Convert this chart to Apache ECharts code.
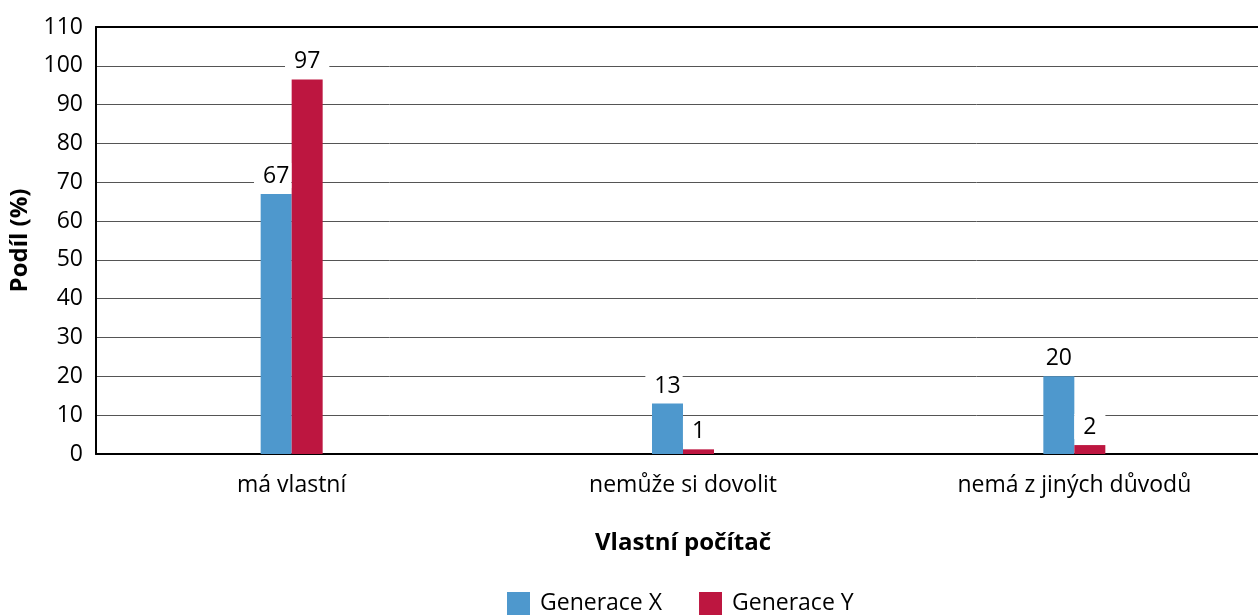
<!DOCTYPE html>
<html>
<head>
<meta charset="utf-8">
<script src="https://cdn.jsdelivr.net/npm/echarts@6/dist/echarts.min.js"></script>
<style>html,body{margin:0;padding:0;background:#fff;overflow:hidden}#c{width:1270px;height:615px}</style>
</head>
<body>
<div id="c"></div>
<script>
const categories = ['má vlastní', 'nemůže si dovolit', 'nemá z jiných důvodů'];
const seriesNames = ['Generace X', 'Generace Y'];
const genX = [67, 13, 20];
const genY = [96.5, 1.2, 2.3];
const yTicks = { min: 0, max: 110, interval: 10 };
const yTitle = 'Podíl (%)';
const xTitle = 'Vlastní počítač';

const FONT = '"Open Sans", sans-serif';
const colors = ['#4E98CD', '#BD1640'];
const chart = echarts.init(document.getElementById('c'), null, { renderer: 'canvas' });
const labelBase = {
  show: true, position: 'top', distance: 6,
  formatter: p => Math.round(p.value),
  color: '#000', fontFamily: FONT, fontSize: 23,
  backgroundColor: '#fff'
};
const labelX = Object.assign({}, labelBase, { padding: [2, 2, 0, 9], offset: [-3.5, 0] });
const labelY = Object.assign({}, labelBase, { padding: [2, 9, 0, 9] });
chart.setOption({
  animation: false,
  color: colors,
  grid: { left: 96, right: 0, top: 27, bottom: 161 },
  legend: {
    data: seriesNames, top: 592, left: 507, padding: 0,
    itemWidth: 33, itemHeight: 23, itemGap: 37, symbolKeepAspect: true,
    icon: 'path://M0,0H23V23H0Z',
    textStyle: { fontFamily: FONT, fontSize: 23, color: '#000' }
  },
  xAxis: [{
    type: 'category', data: categories,
    axisLine: { lineStyle: { color: '#000', width: 2 } },
    axisTick: { show: false },
    axisLabel: { color: '#000', fontFamily: FONT, fontSize: 23, margin: 20 },
    name: xTitle, nameLocation: 'middle', nameGap: 77,
    nameTextStyle: { color: '#000', fontFamily: FONT, fontSize: 24, fontWeight: 'bold' }
  }, {
    type: 'category', data: categories, position: 'top',
    axisLine: { lineStyle: { color: '#000', width: 2 } },
    axisTick: { show: false }, axisLabel: { show: false }
  }],
  yAxis: {
    type: 'value', min: yTicks.min, max: yTicks.max, interval: yTicks.interval,
    axisLine: { show: true, lineStyle: { color: '#000', width: 2 } },
    axisTick: { show: false },
    axisLabel: { color: '#000', fontFamily: FONT, fontSize: 23, margin: 13 },
    splitLine: { lineStyle: { color: '#555', width: 1 } },
    name: yTitle, nameLocation: 'middle', nameGap: 61, nameRotate: 90,
    nameTextStyle: { color: '#000', fontFamily: FONT, fontSize: 24, fontWeight: 'bold' }
  },
  series: [
    { name: seriesNames[0], type: 'bar', data: genX, barWidth: 31, barGap: '0%', label: labelX },
    { name: seriesNames[1], type: 'bar', data: genY, barWidth: 31, barGap: '0%', label: labelY }
  ]
});
</script>
</body>
</html>
